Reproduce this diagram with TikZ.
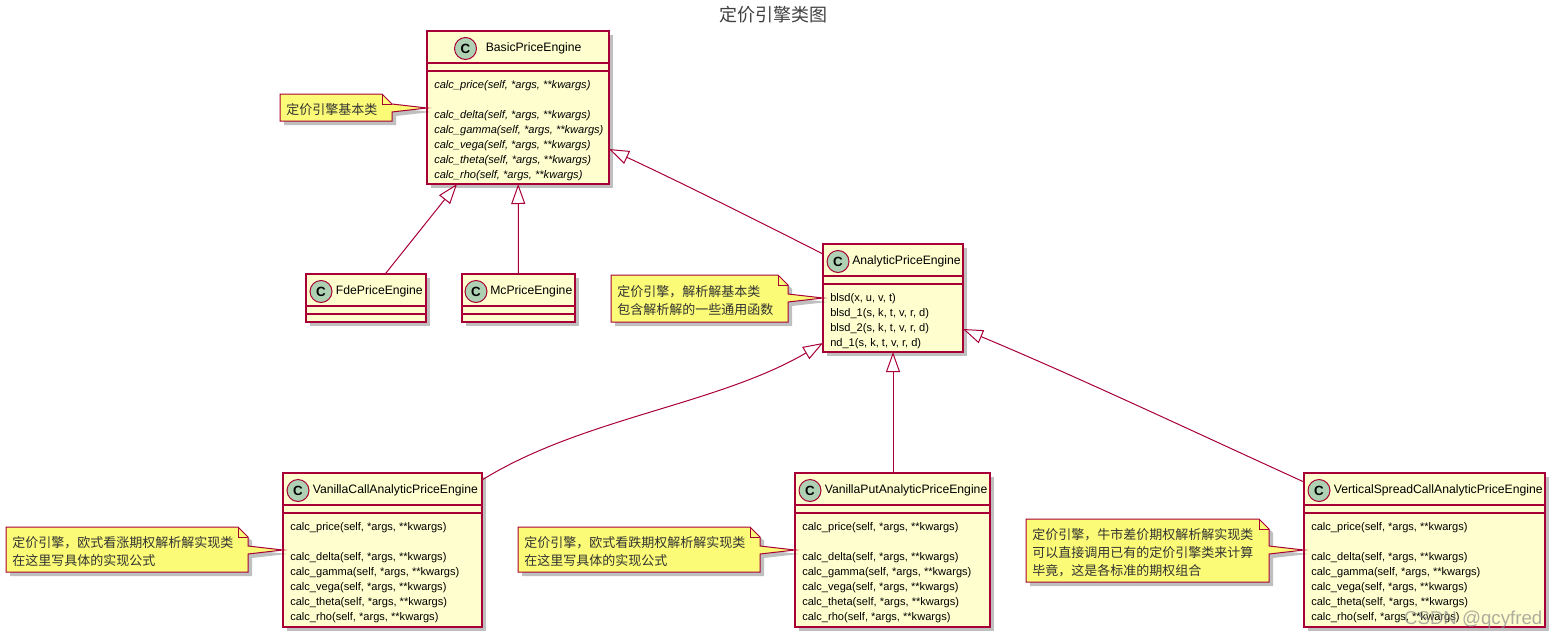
\documentclass[tikz,border=0pt]{standalone}
\usepackage{fontspec}
\setmainfont{Liberation Sans}
\newfontfamily\cjkfont{Noto Sans CJK SC}
\usetikzlibrary{arrows.meta,calc,shadows}

\definecolor{umlborder}{HTML}{A80036}
\definecolor{umlfill}{HTML}{FEFECE}
\definecolor{umlnote}{HTML}{FBFB77}
\definecolor{umlmark}{HTML}{ADD1B2}

\tikzset{
  softshadow/.style={drop shadow={shadow xshift=3pt,shadow yshift=-3pt,fill=black,opacity=.25}},
  classbox/.style={draw=umlborder,fill=umlfill,line width=.95pt,inner sep=0pt,outer sep=0pt,softshadow},
  classline/.style={draw=umlborder,line width=.95pt},
  circlemark/.style={circle,draw=umlborder,fill=umlmark,line width=.75pt,minimum size=16.5pt,inner sep=0pt,font=\bfseries\fontsize{10}{10}\selectfont},
  classtitle/.style={anchor=west,inner sep=0pt,font=\fontsize{9.15}{11}\selectfont},
  members/.style={anchor=north west,inner sep=0pt,align=left,font=\fontsize{8.3}{11.25}\selectfont},
  notebox/.style={draw=umlborder,fill=umlnote,line width=.75pt,softshadow},
  notetext/.style={anchor=west,inner sep=0pt,align=left,text=black!80,font=\cjkfont\fontsize{9.75}{13.5}\selectfont},
  inherits/.style={draw=umlborder,line width=.75pt,-{Triangle[open,length=15pt,width=10.5pt,fill=white]}}
}

\newcommand{\umlclass}[9]{
  \node[classbox,anchor=north west,minimum width=#4*.75pt,minimum height=#5*.75pt] (#1) at (#2,#3) {};
  \node[circlemark] (#1mark) at ($(#1.north west)+(#6,17.5)$) {C};
  \node[classtitle] (#1title) at ($(#1.north west)+(#7,17.5)$) {#8};
  \draw[classline] ($(#1.north west)+(0,32)$) -- ($(#1.north east)+(0,32)$);
  \draw[classline] ($(#1.north west)+(0,40)$) -- ($(#1.north east)+(0,40)$);
  \node[members] (#1members) at ($(#1.north west)+(7,49)$) {#9};
}

\newcommand{\umlnote}[8]{
  \coordinate (#1tip) at (#6.west |- 0,#7);
  \draw[notebox] (#2,#3) -- ({#4-10},#3) -- (#4,{#3+10}) -- (#4,{#7-4}) -- (#1tip)
    -- (#4,{#7+4}) -- (#4,#5) -- (#2,#5) -- cycle;
  \draw[umlborder,line width=.75pt] ({#4-10},#3) -- ({#4-10},{#3+10}) -- (#4,{#3+10});
  \node[notetext] (#1) at ({#2+6},{(#3+#5)/2+2}) {#8};
}

\newcommand{\calcrows}[1]{#1calc\_price(self, *args, **kwargs)\\ ~\\
  #1calc\_delta(self, *args, **kwargs)\\
  #1calc\_gamma(self, *args, **kwargs)\\
  #1calc\_vega(self, *args, **kwargs)\\
  #1calc\_theta(self, *args, **kwargs)\\
  #1calc\_rho(self, *args, **kwargs)}

\begin{document}
\begin{tikzpicture}[x=.75pt,y=-.75pt]
  \useasboundingbox (0,0) rectangle (1558,639);
  \node[font=\cjkfont\fontsize{13.5}{15}\selectfont,text=black!75] (diagramtitle) at (773,15) {定价引擎类图};

  \umlclass{basic}{427}{31}{182}{153}{38.5}{58.5}{BasicPriceEngine}{\calcrows{\itshape}}
  \umlclass{fde}{306}{274}{120}{48}{15}{29.7}{FdePriceEngine}{}
  \umlclass{mc}{462}{274}{113}{48}{14}{28}{McPriceEngine}{}
  \umlclass{analytic}{823}{244}{140}{108}{15}{29}{AnalyticPriceEngine}{blsd(x, u, v, t)\\
    blsd\_1(s, k, t, v, r, d)\\
    blsd\_2(s, k, t, v, r, d)\\
    nd\_1(s, k, t, v, r, d)}
  \umlclass{call}{283}{473}{199}{154}{15}{29.5}{VanillaCallAnalyticPriceEngine}{\calcrows{}}
  \umlclass{put}{795}{473}{195}{154}{15}{29.5}{VanillaPutAnalyticPriceEngine}{\calcrows{}}
  \umlclass{vertical}{1304}{473}{241}{154}{15}{29.5}{VerticalSpreadCallAnalyticPriceEngine}{\calcrows{}}

  \umlnote{basicnote}{280}{94}{392}{121}{basic}{108}{定价引擎基本类}
  \umlnote{analyticnote}{611}{275}{788}{322}{analytic}{298}{定价引擎，解析解基本类\\包含解析解的一些通用函数}
  \umlnote{callnote}{6}{527}{248}{572}{call}{550}{定价引擎，欧式看涨期权解析解实现类\\在这里写具体的实现公式}
  \umlnote{putnote}{518}{527}{760}{572}{put}{550}{定价引擎，欧式看跌期权解析解实现类\\在这里写具体的实现公式}
  \umlnote{verticalnote}{1026}{519}{1269}{582}{vertical}{550}{定价引擎，牛市差价期权解析解实现类\\可以直接调用已有的定价引擎类来计算\\毕竟，这是各标准的期权组合}

  \draw[inherits] (fde) -- (basic);
  \draw[inherits] (mc) -- (basic);
  \draw[inherits] ($(analytic.north west)+(0,10)$) .. controls (760,222) and (680,182) .. ($(basic.north east)+(0,118)$);
  \draw[inherits] ($(call.north east)+(0,7)$) .. controls (582,418) and (717,405) .. ($(analytic.north west)+(0,99)$);
  \draw[inherits] (analytic |- put.north) -- (analytic.south);
  \draw[inherits] ($(vertical.north west)+(0,9)$) .. controls (1190,430) and (1080,378) .. ($(analytic.north east)+(0,85)$);

  \node[font=\fontsize{14}{16}\selectfont,text=black!45,opacity=.7,anchor=east] (watermark) at (1547,620) {CSDN @qcyfred};
\end{tikzpicture}
\end{document}
